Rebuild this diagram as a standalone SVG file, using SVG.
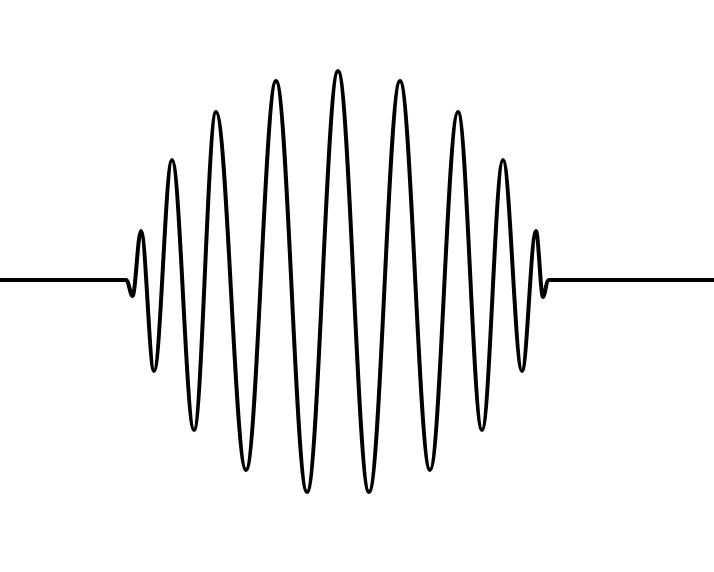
<svg xmlns="http://www.w3.org/2000/svg" width="714" height="572" viewBox="0 0 714 572">
<style>.wave{fill:none;stroke:#000;stroke-width:4;stroke-linejoin:round;stroke-linecap:round}</style>
<rect width="714" height="572" fill="#fff"/>
<path class="wave" d="M0,280 L126,280 C129,280 130,296 132.5,296 C135.5,296 137.8,231 141,231 C145.7,231 149.3,371 154,371 C160.5,371 165.5,160 172,160 C179.9,160 186.1,430 194,430 C201.9,430 208.1,112 216,112 C226.8,112 235.2,470 246,470 C256.8,470 265.2,81 276,81 C287.2,81 295.8,492 307,492 C318.2,492 326.8,71 338,71 C349.2,71 357.8,492 369,492 C380.2,492 388.8,81 400,81 C410.8,81 419.2,470 430,470 C440.1,470 447.9,112 458,112 C466.6,112 473.4,430 482,430 C489.6,430 495.4,160 503,160 C509.8,160 515.2,371 522,371 C527,371 531,231 536,231 C538.5,231 540.5,297 543,297 C545,297 546,280 549,280 L714,280"/>
</svg>
